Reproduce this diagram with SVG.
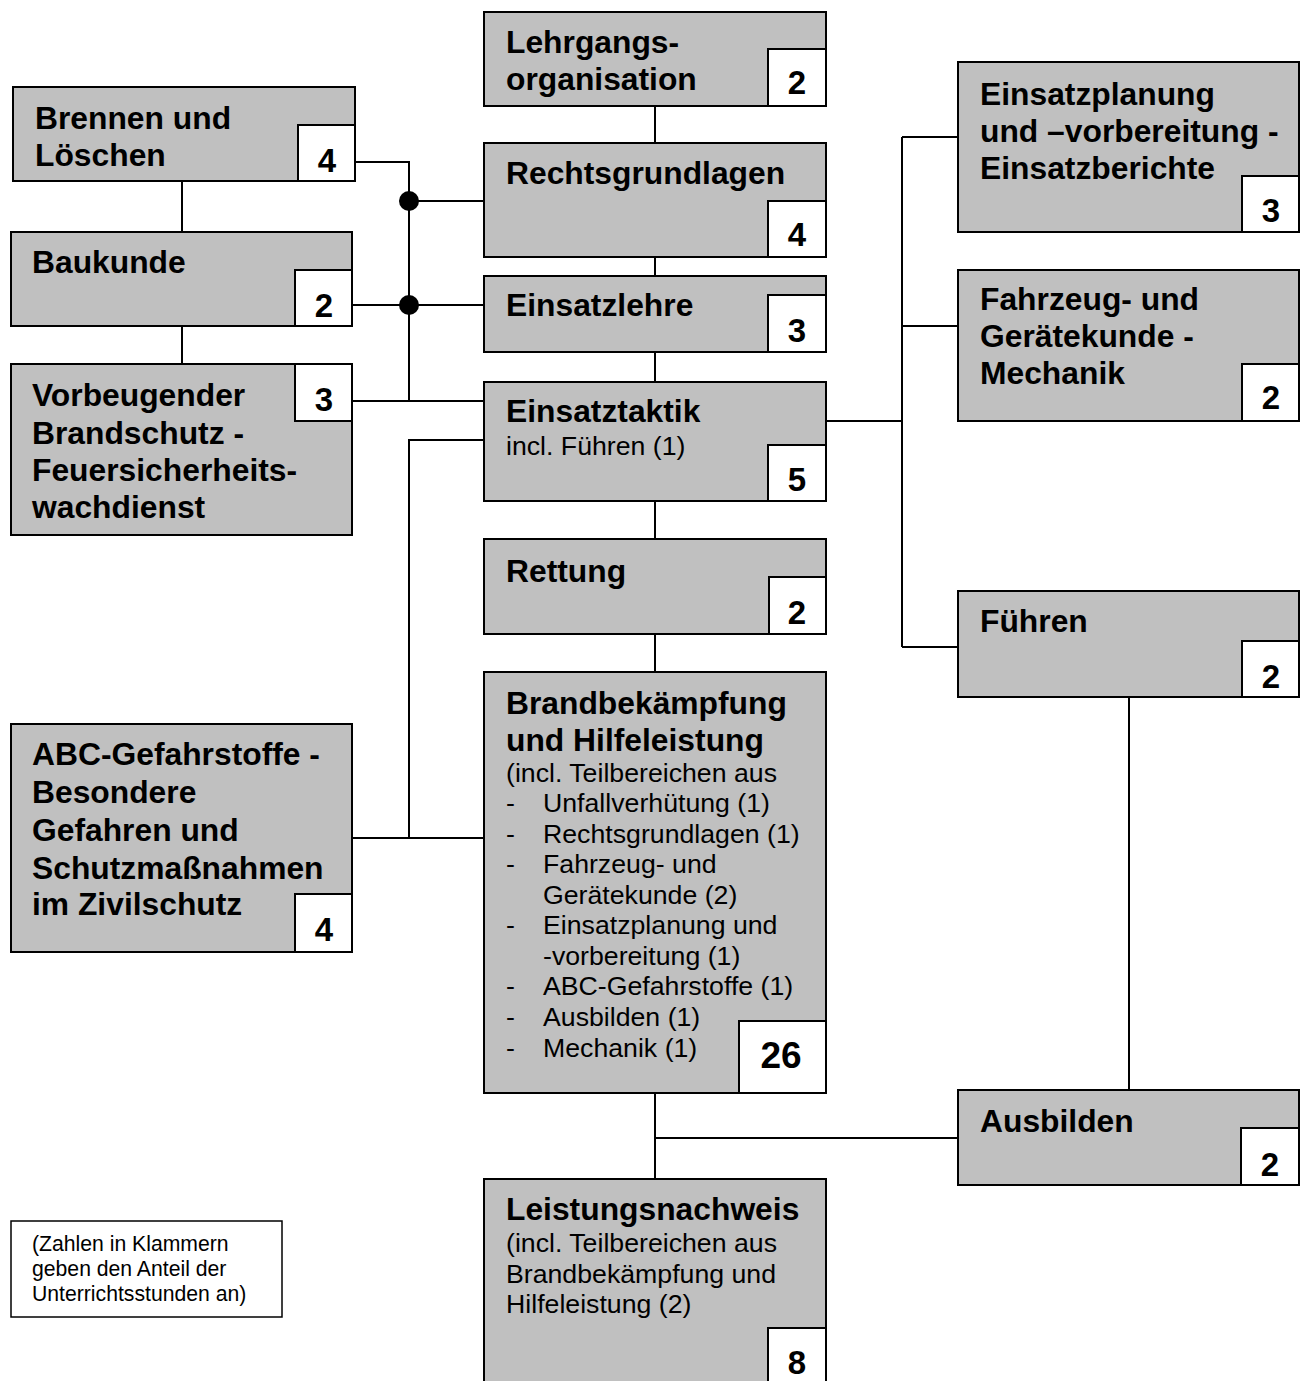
<svg xmlns="http://www.w3.org/2000/svg" width="1307" height="1381" viewBox="0 0 1307 1381">
<style>
.box{fill:#C0C0C0;stroke:#000;stroke-width:2}
.num{fill:#fff;stroke:#000;stroke-width:2}
.t{font-family:"Liberation Sans",Arial,sans-serif;font-weight:bold;font-size:31.8px;fill:#000}
.r{font-family:"Liberation Sans",Arial,sans-serif;font-size:26.7px;fill:#000}
.n{font-family:"Liberation Sans",Arial,sans-serif;font-weight:bold;font-size:33px;fill:#000;text-anchor:middle}
.lg{font-family:"Liberation Sans",Arial,sans-serif;font-size:21.2px;fill:#000}
.c{fill:none;stroke:#000;stroke-width:2}
</style>
<rect width="1307" height="1381" fill="#fff"/>
<g id="connectors">
<path class="c" d="M655 106V143M655 257V276M655 352V382M655 501V539M655 634V672M655 1093V1179M655 1138H958M1129 697V1090"/>
<path class="c" d="M902 137V647M902 137H958M902 326H958M826 421H902M902 647H958"/>
<path class="c" d="M182 181V232M182 326V364"/>
<path class="c" d="M355 162H409V401M409 201H484M352 305H484M352 401H484M484 440H409V838M352 838H484"/>
<circle cx="409" cy="201" r="10" fill="#000"/>
<circle cx="409" cy="305" r="10" fill="#000"/>
</g>
<g id="lehrgangsorganisation">
<rect class="box" x="484" y="12" width="342" height="94"/>
<rect class="num" x="768" y="49" width="58" height="57"/>
<text class="t" x="506" y="53">Lehrgangs-</text>
<text class="t" x="506" y="90">organisation</text>
<text class="n" x="797" y="94">2</text>
</g>
<g id="rechtsgrundlagen">
<rect class="box" x="484" y="143" width="342" height="114"/>
<rect class="num" x="768" y="201" width="58" height="56"/>
<text class="t" x="506" y="184">Rechtsgrundlagen</text>
<text class="n" x="797" y="246">4</text>
</g>
<g id="einsatzlehre">
<rect class="box" x="484" y="276" width="342" height="76"/>
<rect class="num" x="768" y="295" width="58" height="57"/>
<text class="t" x="506" y="316">Einsatzlehre</text>
<text class="n" x="797" y="342">3</text>
</g>
<g id="einsatztaktik">
<rect class="box" x="484" y="382" width="342" height="119"/>
<rect class="num" x="768" y="445" width="58" height="56"/>
<text class="t" x="506" y="422">Einsatztaktik</text>
<text class="r" x="506" y="455">incl. Führen (1)</text>
<text class="n" x="797" y="491">5</text>
</g>
<g id="rettung">
<rect class="box" x="484" y="539" width="342" height="95"/>
<rect class="num" x="769" y="577" width="57" height="57"/>
<text class="t" x="506" y="582">Rettung</text>
<text class="n" x="797" y="624">2</text>
</g>
<g id="brandbekaempfung">
<rect class="box" x="484" y="672" width="342" height="421"/>
<rect class="num" x="739" y="1021" width="87" height="72"/>
<text class="t" x="506" y="714">Brandbekämpfung</text>
<text class="t" x="506" y="751">und Hilfeleistung</text>
<text class="r" x="506" y="782">(incl. Teilbereichen aus</text>
<text class="r" x="506" y="812">-</text><text class="r" x="543" y="812">Unfallverhütung (1)</text>
<text class="r" x="506" y="843">-</text><text class="r" x="543" y="843">Rechtsgrundlagen (1)</text>
<text class="r" x="506" y="873">-</text><text class="r" x="543" y="873">Fahrzeug- und</text>
<text class="r" x="543" y="904">Gerätekunde (2)</text>
<text class="r" x="506" y="934">-</text><text class="r" x="543" y="934">Einsatzplanung und</text>
<text class="r" x="543" y="965">-vorbereitung (1)</text>
<text class="r" x="506" y="995">-</text><text class="r" x="543" y="995">ABC-Gefahrstoffe (1)</text>
<text class="r" x="506" y="1026">-</text><text class="r" x="543" y="1026">Ausbilden (1)</text>
<text class="r" x="506" y="1057">-</text><text class="r" x="543" y="1057">Mechanik (1)</text>
<text class="n" x="781" y="1068" style="font-size:37px">26</text>
</g>
<g id="leistungsnachweis">
<rect class="box" x="484" y="1179" width="342" height="215"/>
<rect class="num" x="768" y="1328" width="58" height="66"/>
<text class="t" x="506" y="1220">Leistungsnachweis</text>
<text class="r" x="506" y="1252">(incl. Teilbereichen aus</text>
<text class="r" x="506" y="1283">Brandbekämpfung und</text>
<text class="r" x="506" y="1313">Hilfeleistung (2)</text>
<text class="n" x="797" y="1374">8</text>
</g>
<g id="brennen">
<rect class="box" x="13" y="87" width="342" height="94"/>
<rect class="num" x="298" y="125" width="57" height="56"/>
<text class="t" x="35" y="129">Brennen und</text>
<text class="t" x="35" y="166">Löschen</text>
<text class="n" x="327" y="172">4</text>
</g>
<g id="baukunde">
<rect class="box" x="11" y="232" width="341" height="94"/>
<rect class="num" x="295" y="270" width="57" height="56"/>
<text class="t" x="32" y="273">Baukunde</text>
<text class="n" x="324" y="317">2</text>
</g>
<g id="vorbeugender">
<rect class="box" x="11" y="364" width="341" height="171"/>
<rect class="num" x="295" y="364" width="57" height="57"/>
<text class="t" x="32" y="406">Vorbeugender</text>
<text class="t" x="32" y="444">Brandschutz -</text>
<text class="t" x="32" y="481">Feuersicherheits-</text>
<text class="t" x="32" y="518">wachdienst</text>
<text class="n" x="324" y="411">3</text>
</g>
<g id="abc">
<rect class="box" x="11" y="724" width="341" height="228"/>
<rect class="num" x="295" y="894" width="57" height="58"/>
<text class="t" x="32" y="765">ABC-Gefahrstoffe -</text>
<text class="t" x="32" y="803">Besondere</text>
<text class="t" x="32" y="841">Gefahren und</text>
<text class="t" x="32" y="879">Schutzmaßnahmen</text>
<text class="t" x="32" y="915">im Zivilschutz</text>
<text class="n" x="324" y="941">4</text>
</g>
<g id="einsatzplanung">
<rect class="box" x="958" y="62" width="341" height="170"/>
<rect class="num" x="1242" y="176" width="57" height="56"/>
<text class="t" x="980" y="105">Einsatzplanung</text>
<text class="t" x="980" y="142">und –vorbereitung -</text>
<text class="t" x="980" y="179">Einsatzberichte</text>
<text class="n" x="1271" y="222">3</text>
</g>
<g id="fahrzeug">
<rect class="box" x="958" y="270" width="341" height="151"/>
<rect class="num" x="1242" y="364" width="57" height="57"/>
<text class="t" x="980" y="310">Fahrzeug- und</text>
<text class="t" x="980" y="347">Gerätekunde -</text>
<text class="t" x="980" y="384">Mechanik</text>
<text class="n" x="1271" y="409">2</text>
</g>
<g id="fuehren">
<rect class="box" x="958" y="591" width="341" height="106"/>
<rect class="num" x="1242" y="641" width="57" height="56"/>
<text class="t" x="980" y="632">Führen</text>
<text class="n" x="1271" y="688">2</text>
</g>
<g id="ausbilden">
<rect class="box" x="958" y="1090" width="341" height="95"/>
<rect class="num" x="1241" y="1128" width="58" height="57"/>
<text class="t" x="980" y="1132">Ausbilden</text>
<text class="n" x="1270" y="1176">2</text>
</g>
<g id="legend">
<rect x="11" y="1221" width="271" height="96" fill="#fff" stroke="#000" stroke-width="1.5"/>
<text class="lg" x="32" y="1251">(Zahlen in Klammern</text>
<text class="lg" x="32" y="1276">geben den Anteil der</text>
<text class="lg" x="32" y="1301">Unterrichtsstunden an)</text>
</g>
</svg>
